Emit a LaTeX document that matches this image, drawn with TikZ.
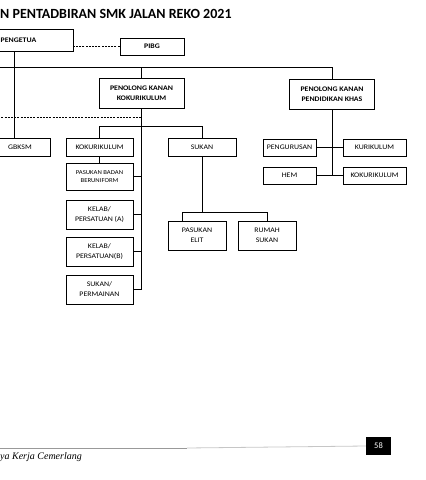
\documentclass[tikz,border=0pt]{standalone}
\usepackage{fontspec}
\setmainfont{Carlito}
\newfontfamily\kotakfont[FakeStretch=1.12]{Carlito}
\newfontfamily\kakifont{Liberation Serif}
\usetikzlibrary{positioning,calc}
\tikzset{
  kotak/.style={draw,line width=0.8pt,align=center,inner sep=1pt,
    font=\kotakfont\fontsize{7}{10}\selectfont},
  kotakb/.style={kotak,font=\kotakfont\bfseries\fontsize{7}{10}\selectfont},
  garis/.style={line width=0.8pt},
  putus/.style={garis,dashed,dash pattern=on 2pt off 1.2pt},
}

\begin{document}
\begin{tikzpicture}[x=1pt,y=-1pt]
  \useasboundingbox (0,0) rectangle (426,480);
  % tajuk
  \node[anchor=west,font=\bfseries\fontsize{14}{16}\selectfont,inner sep=0pt] (tajuk) at (0,14) {N PENTADBIRAN SMK JALAN REKO 2021};
  % peringkat atas
  \node[kotakb,minimum width=109pt,minimum height=22pt] (pgt) at (18.5,40) {PENGETUA};
  \node[kotakb,minimum width=64pt,minimum height=17pt] (pibg) at (152,46.5) {PIBG};
  \node[kotakb,minimum width=85pt,minimum height=30pt] (pkkok) at (141.5,93) {PENOLONG KANAN\\KOKURIKULUM};
  \node[kotakb,minimum width=85pt,minimum height=30pt] (pkkhas) at (332,94) {PENOLONG KANAN\\PENDIDIKAN KHAS};
  \coordinate (atas) at (-5,67);
  \coordinate (sempadan) at (-5,117);
  % kokurikulum
  \node[kotak,minimum width=60pt,minimum height=18pt] (gbksm) at (20,147) {GBKSM};
  \node[kotak,minimum width=67pt,minimum height=18pt] (kok) at (99.5,147) {KOKURIKULUM};
  \node[kotak,minimum width=68pt,minimum height=18pt] (sukan) at (202,147) {SUKAN};
  \node[kotak,minimum width=67pt,minimum height=27pt,font=\kotakfont\fontsize{6}{8.5}\selectfont] (pbb) at (99.5,176.5) {PASUKAN BADAN\\BERUNIFORM};
  \node[kotak,minimum width=67pt,minimum height=29pt] (kelaba) at (99.5,214.5) {KELAB/\\PERSATUAN (A)};
  \node[kotak,minimum width=67pt,minimum height=29pt] (kelabb) at (99.5,251.5) {KELAB/\\PERSATUAN(B)};
  \node[kotak,minimum width=67pt,minimum height=29pt] (sukanp) at (99.5,289.5) {SUKAN/\\PERMAINAN};
  \node[kotak,minimum width=58pt,minimum height=29pt] (elit) at (197,235.5) {PASUKAN\\ELIT};
  \node[kotak,minimum width=58pt,minimum height=29pt] (rumah) at (267,235.5) {RUMAH\\SUKAN};
  \coordinate (sukj) at ($(rumah.north)+(0,-8)$);
  % pendidikan khas
  \node[kotak,minimum width=53pt,minimum height=17pt] (urus) at (289.5,147.5) {PENGURUSAN};
  \node[kotak,minimum width=63pt,minimum height=17pt] (kur) at (374.5,147.5) {KURIKULUM};
  \node[kotak,minimum width=53pt,minimum height=17pt] (hem) at (289.5,175.5) {HEM};
  \node[kotak,minimum width=63pt,minimum height=17pt] (kokk) at (374.5,175.5) {KOKURIKULUM};
  % kaki
  \node[fill=black,text=white,minimum width=25pt,minimum height=18pt,inner sep=0pt,font=\fontsize{8.5}{9}\selectfont] (hal) at (378.5,446) {58};
  \node[anchor=north west,inner sep=0pt,font=\kakifont\itshape\fontsize{10}{12}\selectfont] (moto) at (0,452) {ya Kerja Cemerlang};
  \coordinate (kakil) at (0,448);
  \coordinate (kakit) at (187,448);

  \draw[putus] (pibg.west) -- (pibg.west -| pgt.east);
  \draw[garis] ([xshift=-5.5pt]gbksm.north) -- ([xshift=-5.5pt]gbksm.north |- pgt.south);
  \draw[garis] (atas) -| (pkkhas.north);
  \draw[garis] (pkkok.north) -- (pkkok.north |- atas);
  \draw[putus] (sempadan) -- (sempadan -| pkkok.south);
  \draw[garis] (pkkok.south) |- (sukanp.east);
  \draw[garis] (kok.north) |- ([yshift=-18pt]pkkok.south) -| (sukan.north);
  \draw[garis] (kok) -- (pbb);
  \draw[garis] (pbb.east) -- (pbb.east -| pkkok.south);
  \draw[garis] (kelaba.east) -- (kelaba.east -| pkkok.south);
  \draw[garis] (kelabb.east) -- (kelabb.east -| pkkok.south);
  \draw[garis] (sukan.south) -- (sukan.south |- sukj);
  \draw[garis] ([xshift=-15pt]elit.north) |- (sukj) -- (rumah.north);
  \draw[garis] (pkkhas.south) |- (hem.east);
  \draw[garis] (urus) -- (kur);
  \draw[garis] (hem) -- (kokk);
  \draw[line width=0.8pt,gray!80] (kakil) -- (kakit);
  \draw[line width=0.8pt,gray!45] (kakit) -- (hal.west);
\end{tikzpicture}
\end{document}
